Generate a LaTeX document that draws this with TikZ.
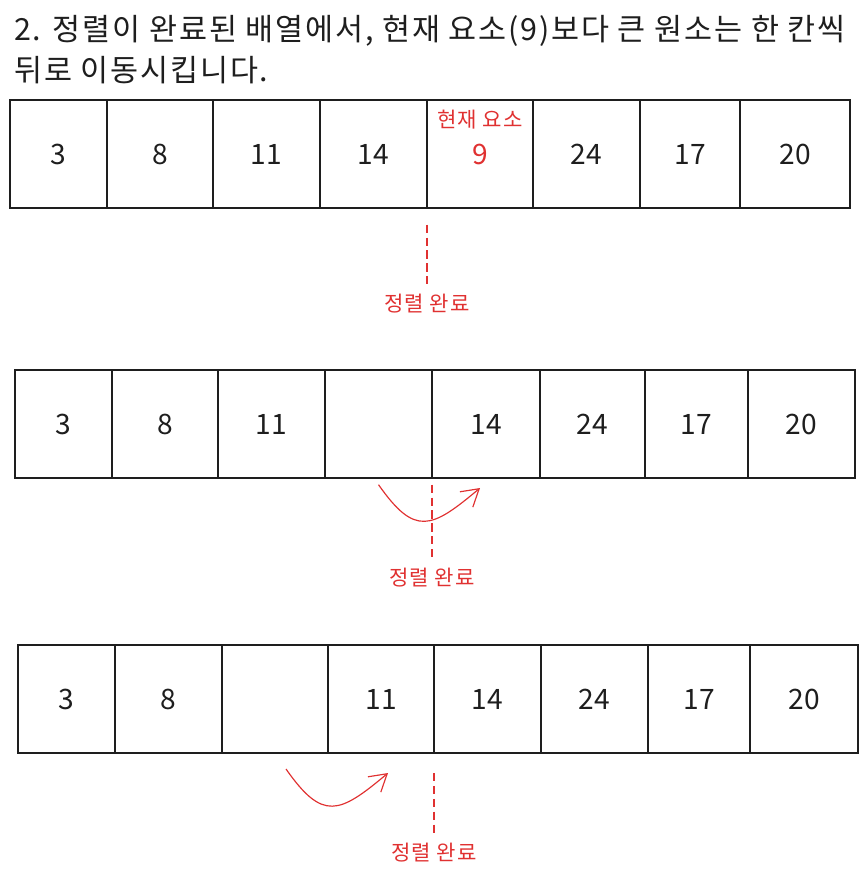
\documentclass[tikz,border=0pt]{standalone}
\usepackage{fontspec}
\setmainfont{Noto Sans CJK KR}
\usetikzlibrary{positioning, arrows.meta}
\definecolor{ink}{HTML}{1E1E1E}
\definecolor{mark}{HTML}{E03131}

\begin{document}
\begin{tikzpicture}[
    x=0.03cm, y=-0.03cm,
    cell/.style={
        rectangle,
        draw=ink,
        line width=1.1pt,
        minimum height=3.24cm,
        inner sep=0pt,
        outer sep=0pt,
        text=ink,
        font=\fontsize{24}{28}\selectfont
    },
    note/.style={
        text=mark,
        inner sep=1pt,
        font=\fontsize{18}{21}\selectfont\addfontfeature{LetterSpace=4}
    },
    guide/.style={
        draw=mark,
        line width=0.9pt,
        dash pattern=on 7pt off 4pt
    },
    moveline/.style={
        draw=mark,
        line width=1pt,
        -{Straight Barb[length=5mm, width=6mm]}
    }
]

\useasboundingbox (0, 0) rectangle (865, 876);

% Title
\node[anchor=north west, align=left, inner sep=0pt, text=ink,
      font=\fontsize{26}{35}\selectfont\addfontfeature{LetterSpace=6}] (title) at (14, 15)
    {2. 정렬이 완료된 배열에서, 현재 요소(9)보다 큰 원소는 한 칸씩\\뒤로 이동시킵니다.};

% ========== FIRST ARRAY ==========

\node[cell, minimum width=2.91cm, anchor=north west] (c11) at (10, 100) {3};
\node[cell, minimum width=3.18cm, right=0pt of c11] (c12) {8};
\node[cell, minimum width=3.21cm, right=0pt of c12] (c13) {11};
\node[cell, minimum width=3.21cm, right=0pt of c13] (c14) {14};
\node[cell, minimum width=3.18cm, right=0pt of c14, text=mark] (c15) {9};
\node[cell, minimum width=3.21cm, right=0pt of c15] (c16) {24};
\node[cell, minimum width=3.00cm, right=0pt of c16] (c17) {17};
\node[cell, minimum width=3.30cm, right=0pt of c17] (c18) {20};

\node[note, below=0.25cm of c15.north] (cur) {현재 요소};

\node[note, below=2.55cm of c15.south west] (done1) {정렬 완료};
\draw[guide] ([yshift=-0.5cm]c15.south west) -- ([yshift=0.2cm]done1.north);

% ========== SECOND ARRAY ==========

\node[cell, minimum width=2.91cm, anchor=north west] (c21) at (15, 370) {3};
\node[cell, minimum width=3.18cm, right=0pt of c21] (c22) {8};
\node[cell, minimum width=3.21cm, right=0pt of c22] (c23) {11};
\node[cell, minimum width=3.21cm, right=0pt of c23] (c24) {};
\node[cell, minimum width=3.24cm, right=0pt of c24] (c25) {14};
\node[cell, minimum width=3.15cm, right=0pt of c25] (c26) {24};
\node[cell, minimum width=3.09cm, right=0pt of c26] (c27) {17};
\node[cell, minimum width=3.21cm, right=0pt of c27] (c28) {20};

\node[note, below=2.65cm of c25.south west] (done2) {정렬 완료};
\draw[guide] ([yshift=-0.2cm]c25.south west) -- ([yshift=0.24cm]done2.north);

\draw[moveline] ([yshift=-0.2cm]c24.south) to[out=-55, in=-140, looseness=1.6]
    ([xshift=-0.18cm, yshift=-0.3cm]c25.south);

% ========== THIRD ARRAY ==========

\node[cell, minimum width=2.91cm, anchor=north west] (c31) at (18, 645) {3};
\node[cell, minimum width=3.21cm, right=0pt of c31] (c32) {8};
\node[cell, minimum width=3.18cm, right=0pt of c32] (c33) {};
\node[cell, minimum width=3.18cm, right=0pt of c33] (c34) {11};
\node[cell, minimum width=3.21cm, right=0pt of c34] (c35) {14};
\node[cell, minimum width=3.21cm, right=0pt of c35] (c36) {24};
\node[cell, minimum width=3.06cm, right=0pt of c36] (c37) {17};
\node[cell, minimum width=3.24cm, right=0pt of c37] (c38) {20};

\node[note, below=2.65cm of c35.south west] (done3) {정렬 완료};
\draw[guide] ([yshift=-0.6cm]c35.south west) -- ([yshift=0.24cm]done3.north);

\draw[moveline] ([xshift=0.33cm, yshift=-0.48cm]c33.south) to[out=-55, in=-140, looseness=1.6]
    ([xshift=0.21cm, yshift=-0.6cm]c34.south);

\end{tikzpicture}
\end{document}
